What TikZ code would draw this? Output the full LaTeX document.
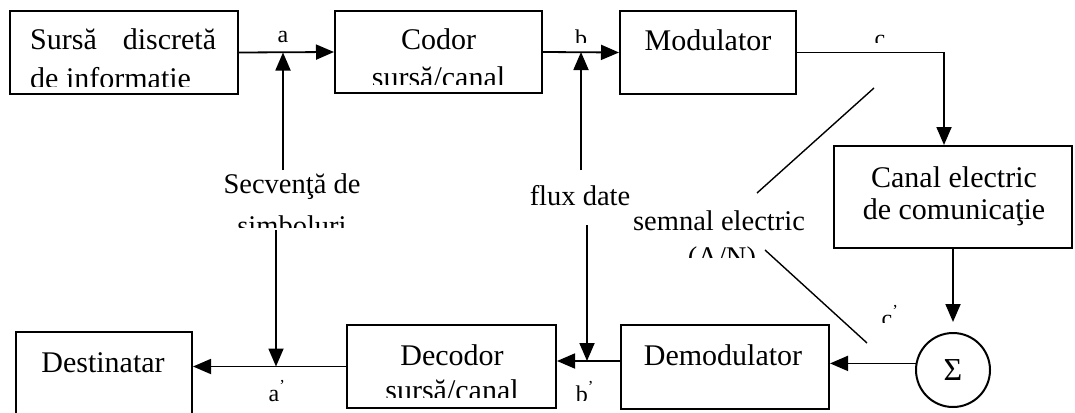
\documentclass[tikz,border=0pt]{standalone}
\usepackage{fontspec}
\setmainfont{Liberation Serif}
\usetikzlibrary{arrows.meta}

\begin{document}
\begin{tikzpicture}[x=1pt,y=-1pt,
  blk/.style={draw,line width=2pt,rectangle,inner sep=0pt},
  conn/.style={line width=1.8pt,-{Triangle[length=18pt,width=15pt]}},
  lead/.style={line width=1.4pt},
  big/.style={font=\fontsize{30}{36}\selectfont,inner sep=0pt,anchor=base},
  mid/.style={font=\fontsize{28.5}{34}\selectfont,inner sep=0pt,anchor=base},
  small/.style={font=\fontsize{24}{28}\selectfont,inner sep=0pt,anchor=base}]

\clip (0,0) rectangle (1075,412);

% blocks of the chain
\node[blk,minimum width=228,minimum height=83] (src) at (124,52.5) {};
\node[blk,minimum width=207,minimum height=82] (cod) at (438.5,52) {};
\node[blk,minimum width=176,minimum height=83] (mod) at (708,52.5) {};
\node[blk,minimum width=238,minimum height=102] (chan) at (953,197) {};
\node[blk,circle,minimum size=74,font=\fontsize{32}{36}\selectfont] (sum) at (953,370) {Σ};
\node[blk,minimum width=208,minimum height=84] (demod) at (725,367) {};
\node[blk,minimum width=209,minimum height=83] (dec) at (451.5,366.5) {};
\node[blk,minimum width=176,minimum height=108] (dest) at (104,386) {};

% block texts (cut off at the lower edge of their text frames)
\node[big,anchor=base west] (t1) at (30,50) {Sursă\hspace{26pt}discretă};
\begin{scope}
  \clip (10,60) rectangle (238,86);
  \node[big,anchor=base west] (t2) at (30,88) {de informaţie};
\end{scope}
\node[big] (t3) at (438.5,50) {Codor};
\begin{scope}
  \clip (335,60) rectangle (542,84);
  \node[big] (t4) at (438.5,87) {sursă/canal};
\end{scope}
\node[big] (t5) at (708,51) {Modulator};
\node[big] (t6) at (954,187) {Canal electric};
\node[big] (t7) at (954,219) {de comunicaţie};
\node[big] (t8) at (723,365) {Demodulator};
\node[big] (t9) at (452,365) {Decodor};
\begin{scope}
  \clip (347,370) rectangle (556,397);
  \node[big] (t10) at (452,400) {sursă/canal};
\end{scope}
\node[big] (t11) at (103,372) {Destinatar};

% side labels
\node[mid] (l1) at (292,193) {Secvenţă de};
\begin{scope}
  \clip (200,200) rectangle (400,227);
  \node[mid] (l2) at (292,235) {simboluri};
\end{scope}
\node[mid] (l3) at (580,205) {flux date};
\node[mid] (l4) at (719,230) {semnal electric};
\begin{scope}
  \clip (650,238) rectangle (800,257);
  \node[mid] (l5) at (722,266) {(A/N)};
\end{scope}

% signal point labels
\node[small] (pa) at (283,42) {a};
\begin{scope}
  \clip (560,20) rectangle (610,43);
  \node[small] (pb) at (581,47) {b};
\end{scope}
\begin{scope}
  \clip (860,20) rectangle (900,43);
  \node[small] (pc) at (880,47) {c};
\end{scope}
\begin{scope}
  \clip (870,295) rectangle (910,322);
  \node[small] (pc2) at (890,326) {c\textsuperscript{’}};
\end{scope}
\begin{scope}
  \clip (255,375) rectangle (300,401);
  \node[small] (pa2) at (277,401) {a\textsuperscript{’}};
\end{scope}
\begin{scope}
  \clip (565,375) rectangle (610,400);
  \node[small] (pb2) at (585,402) {b\textsuperscript{’}};
\end{scope}

% forward path
\draw[conn] (src.east) -- (cod.west);
\draw[conn] (cod.east) -- (mod.west);
\coordinate (cturn) at (944,52.5);
\draw[conn] (mod.east) -- (cturn) -- (cturn |- chan.north);
\draw[conn] (chan.south) -- ([yshift=10pt]sum.north);

% return path
\draw[conn] (sum.170) -- (sum.170 -| demod.east);
\coordinate (drow) at ([yshift=6pt]demod.west);
\draw[conn] (drow) -- (drow -| dec.east);
\draw[conn] (dec.west) -- (dec.west -| dest.east);

% pointers from the side labels
\coordinate (sa) at (283,170);
\draw[conn] (sa) -- (sa |- src.east);
\coordinate (sb) at (276,230);
\draw[conn] (sb) -- (sb |- dec.west);
\coordinate (fa) at (581,170);
\draw[conn] (fa) -- (fa |- cod.east);
\coordinate (fb) at (587,225);
\draw[conn] (fb) -- (fb |- drow);

% leader lines of the electric signal label
\coordinate (e1) at (874,88);
\coordinate (e2) at (757,193);
\draw[lead] (e1) -- (e2);
\coordinate (e3) at (765,250);
\coordinate (e4) at (867,343);
\draw[lead] (e3) -- (e4);
\end{tikzpicture}
\end{document}
